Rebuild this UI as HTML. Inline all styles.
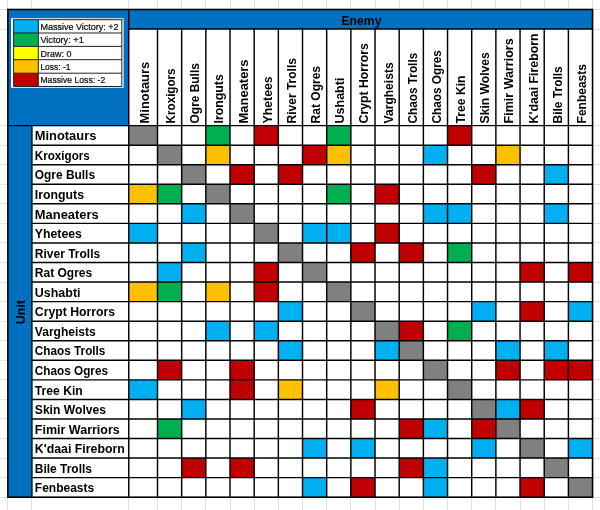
<!DOCTYPE html>
<html><head><meta charset="utf-8"><title>Matchups</title>
<style>html,body{margin:0;padding:0;background:#fff;overflow:hidden}svg{display:block}text{font-family:"Liberation Sans",sans-serif;fill:#000}.b{font-weight:bold;font-size:13.5px}.l{font-size:9.6px;fill:#0a0a0a;stroke:#0a0a0a;stroke-width:.22px}</style></head><body>
<svg width="600" height="510" viewBox="0 0 600 510">
<rect width="600" height="510" fill="#fff"/>
<g stroke="#E1E1E1" stroke-width="1">
<line x1="7.5" y1="0" x2="7.5" y2="510"/><line x1="31.5" y1="0" x2="31.5" y2="510"/><line x1="128.5" y1="0" x2="128.5" y2="510"/><line x1="157.5" y1="0" x2="157.5" y2="510"/><line x1="181.5" y1="0" x2="181.5" y2="510"/><line x1="205.5" y1="0" x2="205.5" y2="510"/><line x1="230.5" y1="0" x2="230.5" y2="510"/><line x1="254.5" y1="0" x2="254.5" y2="510"/><line x1="278.5" y1="0" x2="278.5" y2="510"/><line x1="302.5" y1="0" x2="302.5" y2="510"/><line x1="326.5" y1="0" x2="326.5" y2="510"/><line x1="350.5" y1="0" x2="350.5" y2="510"/><line x1="375.5" y1="0" x2="375.5" y2="510"/><line x1="399.5" y1="0" x2="399.5" y2="510"/><line x1="423.5" y1="0" x2="423.5" y2="510"/><line x1="447.5" y1="0" x2="447.5" y2="510"/><line x1="471.5" y1="0" x2="471.5" y2="510"/><line x1="495.5" y1="0" x2="495.5" y2="510"/><line x1="520.5" y1="0" x2="520.5" y2="510"/><line x1="544.5" y1="0" x2="544.5" y2="510"/><line x1="568.5" y1="0" x2="568.5" y2="510"/><line x1="592.5" y1="0" x2="592.5" y2="510"/><line x1="0" y1="9.5" x2="600" y2="9.5"/><line x1="0" y1="29.5" x2="600" y2="29.5"/><line x1="0" y1="125.5" x2="600" y2="125.5"/><line x1="0" y1="145.5" x2="600" y2="145.5"/><line x1="0" y1="164.5" x2="600" y2="164.5"/><line x1="0" y1="184.5" x2="600" y2="184.5"/><line x1="0" y1="203.5" x2="600" y2="203.5"/><line x1="0" y1="223.5" x2="600" y2="223.5"/><line x1="0" y1="242.5" x2="600" y2="242.5"/><line x1="0" y1="262.5" x2="600" y2="262.5"/><line x1="0" y1="282.5" x2="600" y2="282.5"/><line x1="0" y1="301.5" x2="600" y2="301.5"/><line x1="0" y1="321.5" x2="600" y2="321.5"/><line x1="0" y1="340.5" x2="600" y2="340.5"/><line x1="0" y1="360.5" x2="600" y2="360.5"/><line x1="0" y1="379.5" x2="600" y2="379.5"/><line x1="0" y1="399.5" x2="600" y2="399.5"/><line x1="0" y1="418.5" x2="600" y2="418.5"/><line x1="0" y1="438.5" x2="600" y2="438.5"/><line x1="0" y1="458.5" x2="600" y2="458.5"/><line x1="0" y1="477.5" x2="600" y2="477.5"/><line x1="0" y1="497.5" x2="600" y2="497.5"/></g>
<rect x="7.90" y="9.50" width="584.66" height="487.70" fill="#fff"/>
<rect x="7.90" y="9.50" width="120.85" height="116.10" fill="#0070C0"/>
<rect x="128.75" y="9.50" width="463.81" height="19.50" fill="#0070C0"/>
<rect x="7.90" y="125.60" width="24.00" height="371.60" fill="#0070C0"/>
<rect x="128.75" y="125.60" width="28.75" height="19.56" fill="#808080"/><rect x="205.84" y="125.60" width="24.17" height="19.56" fill="#00B050"/><rect x="254.18" y="125.60" width="24.17" height="19.56" fill="#C00000"/><rect x="326.69" y="125.60" width="24.17" height="19.56" fill="#00B050"/><rect x="447.54" y="125.60" width="24.17" height="19.56" fill="#C00000"/><rect x="157.50" y="145.16" width="24.17" height="19.56" fill="#808080"/><rect x="205.84" y="145.16" width="24.17" height="19.56" fill="#FFC000"/><rect x="302.52" y="145.16" width="24.17" height="19.56" fill="#C00000"/><rect x="326.69" y="145.16" width="24.17" height="19.56" fill="#FFC000"/><rect x="423.37" y="145.16" width="24.17" height="19.56" fill="#00B0F0"/><rect x="495.88" y="145.16" width="24.17" height="19.56" fill="#FFC000"/><rect x="181.67" y="164.72" width="24.17" height="19.56" fill="#808080"/><rect x="230.01" y="164.72" width="24.17" height="19.56" fill="#C00000"/><rect x="278.35" y="164.72" width="24.17" height="19.56" fill="#C00000"/><rect x="471.71" y="164.72" width="24.17" height="19.56" fill="#C00000"/><rect x="544.22" y="164.72" width="24.17" height="19.56" fill="#00B0F0"/><rect x="128.75" y="184.27" width="28.75" height="19.56" fill="#FFC000"/><rect x="157.50" y="184.27" width="24.17" height="19.56" fill="#00B050"/><rect x="205.84" y="184.27" width="24.17" height="19.56" fill="#808080"/><rect x="326.69" y="184.27" width="24.17" height="19.56" fill="#00B050"/><rect x="375.03" y="184.27" width="24.17" height="19.56" fill="#C00000"/><rect x="181.67" y="203.83" width="24.17" height="19.56" fill="#00B0F0"/><rect x="230.01" y="203.83" width="24.17" height="19.56" fill="#808080"/><rect x="423.37" y="203.83" width="24.17" height="19.56" fill="#00B0F0"/><rect x="447.54" y="203.83" width="24.17" height="19.56" fill="#00B0F0"/><rect x="544.22" y="203.83" width="24.17" height="19.56" fill="#00B0F0"/><rect x="128.75" y="223.39" width="28.75" height="19.56" fill="#00B0F0"/><rect x="254.18" y="223.39" width="24.17" height="19.56" fill="#808080"/><rect x="302.52" y="223.39" width="24.17" height="19.56" fill="#00B0F0"/><rect x="326.69" y="223.39" width="24.17" height="19.56" fill="#00B0F0"/><rect x="375.03" y="223.39" width="24.17" height="19.56" fill="#C00000"/><rect x="181.67" y="242.95" width="24.17" height="19.56" fill="#00B0F0"/><rect x="278.35" y="242.95" width="24.17" height="19.56" fill="#808080"/><rect x="350.86" y="242.95" width="24.17" height="19.56" fill="#C00000"/><rect x="399.20" y="242.95" width="24.17" height="19.56" fill="#C00000"/><rect x="447.54" y="242.95" width="24.17" height="19.56" fill="#00B050"/><rect x="157.50" y="262.51" width="24.17" height="19.56" fill="#00B0F0"/><rect x="254.18" y="262.51" width="24.17" height="19.56" fill="#C00000"/><rect x="302.52" y="262.51" width="24.17" height="19.56" fill="#808080"/><rect x="520.05" y="262.51" width="24.17" height="19.56" fill="#C00000"/><rect x="568.39" y="262.51" width="24.17" height="19.56" fill="#C00000"/><rect x="128.75" y="282.06" width="28.75" height="19.56" fill="#FFC000"/><rect x="157.50" y="282.06" width="24.17" height="19.56" fill="#00B050"/><rect x="205.84" y="282.06" width="24.17" height="19.56" fill="#FFC000"/><rect x="254.18" y="282.06" width="24.17" height="19.56" fill="#C00000"/><rect x="326.69" y="282.06" width="24.17" height="19.56" fill="#808080"/><rect x="278.35" y="301.62" width="24.17" height="19.56" fill="#00B0F0"/><rect x="350.86" y="301.62" width="24.17" height="19.56" fill="#808080"/><rect x="471.71" y="301.62" width="24.17" height="19.56" fill="#00B0F0"/><rect x="520.05" y="301.62" width="24.17" height="19.56" fill="#C00000"/><rect x="568.39" y="301.62" width="24.17" height="19.56" fill="#00B0F0"/><rect x="205.84" y="321.18" width="24.17" height="19.56" fill="#00B0F0"/><rect x="254.18" y="321.18" width="24.17" height="19.56" fill="#00B0F0"/><rect x="375.03" y="321.18" width="24.17" height="19.56" fill="#808080"/><rect x="399.20" y="321.18" width="24.17" height="19.56" fill="#C00000"/><rect x="447.54" y="321.18" width="24.17" height="19.56" fill="#00B050"/><rect x="278.35" y="340.74" width="24.17" height="19.56" fill="#00B0F0"/><rect x="375.03" y="340.74" width="24.17" height="19.56" fill="#00B0F0"/><rect x="399.20" y="340.74" width="24.17" height="19.56" fill="#808080"/><rect x="495.88" y="340.74" width="24.17" height="19.56" fill="#00B0F0"/><rect x="544.22" y="340.74" width="24.17" height="19.56" fill="#00B0F0"/><rect x="157.50" y="360.29" width="24.17" height="19.56" fill="#C00000"/><rect x="230.01" y="360.29" width="24.17" height="19.56" fill="#C00000"/><rect x="423.37" y="360.29" width="24.17" height="19.56" fill="#808080"/><rect x="495.88" y="360.29" width="24.17" height="19.56" fill="#C00000"/><rect x="544.22" y="360.29" width="24.17" height="19.56" fill="#C00000"/><rect x="568.39" y="360.29" width="24.17" height="19.56" fill="#C00000"/><rect x="128.75" y="379.85" width="28.75" height="19.56" fill="#00B0F0"/><rect x="230.01" y="379.85" width="24.17" height="19.56" fill="#C00000"/><rect x="278.35" y="379.85" width="24.17" height="19.56" fill="#FFC000"/><rect x="375.03" y="379.85" width="24.17" height="19.56" fill="#FFC000"/><rect x="447.54" y="379.85" width="24.17" height="19.56" fill="#808080"/><rect x="181.67" y="399.41" width="24.17" height="19.56" fill="#00B0F0"/><rect x="350.86" y="399.41" width="24.17" height="19.56" fill="#C00000"/><rect x="471.71" y="399.41" width="24.17" height="19.56" fill="#808080"/><rect x="495.88" y="399.41" width="24.17" height="19.56" fill="#00B0F0"/><rect x="520.05" y="399.41" width="24.17" height="19.56" fill="#C00000"/><rect x="157.50" y="418.97" width="24.17" height="19.56" fill="#00B050"/><rect x="399.20" y="418.97" width="24.17" height="19.56" fill="#C00000"/><rect x="423.37" y="418.97" width="24.17" height="19.56" fill="#00B0F0"/><rect x="471.71" y="418.97" width="24.17" height="19.56" fill="#C00000"/><rect x="495.88" y="418.97" width="24.17" height="19.56" fill="#808080"/><rect x="302.52" y="438.53" width="24.17" height="19.56" fill="#00B0F0"/><rect x="350.86" y="438.53" width="24.17" height="19.56" fill="#00B0F0"/><rect x="471.71" y="438.53" width="24.17" height="19.56" fill="#00B0F0"/><rect x="520.05" y="438.53" width="24.17" height="19.56" fill="#808080"/><rect x="568.39" y="438.53" width="24.17" height="19.56" fill="#00B0F0"/><rect x="181.67" y="458.08" width="24.17" height="19.56" fill="#C00000"/><rect x="230.01" y="458.08" width="24.17" height="19.56" fill="#C00000"/><rect x="399.20" y="458.08" width="24.17" height="19.56" fill="#C00000"/><rect x="423.37" y="458.08" width="24.17" height="19.56" fill="#00B0F0"/><rect x="544.22" y="458.08" width="24.17" height="19.56" fill="#808080"/><rect x="302.52" y="477.64" width="24.17" height="19.56" fill="#00B0F0"/><rect x="350.86" y="477.64" width="24.17" height="19.56" fill="#C00000"/><rect x="423.37" y="477.64" width="24.17" height="19.56" fill="#00B0F0"/><rect x="520.05" y="477.64" width="24.17" height="19.56" fill="#C00000"/><rect x="568.39" y="477.64" width="24.17" height="19.56" fill="#808080"/>
<g stroke="#000" stroke-width="1.45" fill="none">
<line x1="157.50" y1="29.00" x2="157.50" y2="497.20"/><line x1="181.67" y1="29.00" x2="181.67" y2="497.20"/><line x1="205.84" y1="29.00" x2="205.84" y2="497.20"/><line x1="230.01" y1="29.00" x2="230.01" y2="497.20"/><line x1="254.18" y1="29.00" x2="254.18" y2="497.20"/><line x1="278.35" y1="29.00" x2="278.35" y2="497.20"/><line x1="302.52" y1="29.00" x2="302.52" y2="497.20"/><line x1="326.69" y1="29.00" x2="326.69" y2="497.20"/><line x1="350.86" y1="29.00" x2="350.86" y2="497.20"/><line x1="375.03" y1="29.00" x2="375.03" y2="497.20"/><line x1="399.20" y1="29.00" x2="399.20" y2="497.20"/><line x1="423.37" y1="29.00" x2="423.37" y2="497.20"/><line x1="447.54" y1="29.00" x2="447.54" y2="497.20"/><line x1="471.71" y1="29.00" x2="471.71" y2="497.20"/><line x1="495.88" y1="29.00" x2="495.88" y2="497.20"/><line x1="520.05" y1="29.00" x2="520.05" y2="497.20"/><line x1="544.22" y1="29.00" x2="544.22" y2="497.20"/><line x1="568.39" y1="29.00" x2="568.39" y2="497.20"/><line x1="128.75" y1="9.50" x2="128.75" y2="497.20"/><line x1="31.90" y1="125.60" x2="31.90" y2="497.20"/><line x1="31.90" y1="145.16" x2="592.56" y2="145.16"/><line x1="31.90" y1="164.72" x2="592.56" y2="164.72"/><line x1="31.90" y1="184.27" x2="592.56" y2="184.27"/><line x1="31.90" y1="203.83" x2="592.56" y2="203.83"/><line x1="31.90" y1="223.39" x2="592.56" y2="223.39"/><line x1="31.90" y1="242.95" x2="592.56" y2="242.95"/><line x1="31.90" y1="262.51" x2="592.56" y2="262.51"/><line x1="31.90" y1="282.06" x2="592.56" y2="282.06"/><line x1="31.90" y1="301.62" x2="592.56" y2="301.62"/><line x1="31.90" y1="321.18" x2="592.56" y2="321.18"/><line x1="31.90" y1="340.74" x2="592.56" y2="340.74"/><line x1="31.90" y1="360.29" x2="592.56" y2="360.29"/><line x1="31.90" y1="379.85" x2="592.56" y2="379.85"/><line x1="31.90" y1="399.41" x2="592.56" y2="399.41"/><line x1="31.90" y1="418.97" x2="592.56" y2="418.97"/><line x1="31.90" y1="438.53" x2="592.56" y2="438.53"/><line x1="31.90" y1="458.08" x2="592.56" y2="458.08"/><line x1="31.90" y1="477.64" x2="592.56" y2="477.64"/><line x1="7.90" y1="125.60" x2="592.56" y2="125.60"/><line x1="128.75" y1="29.00" x2="592.56" y2="29.00"/></g>
<rect x="7.90" y="9.50" width="584.66" height="487.70" fill="none" stroke="#000" stroke-width="1.6"/>
<text class="b" x="361.46" y="24.90" textLength="40.00" lengthAdjust="spacingAndGlyphs" text-anchor="middle">Enemy</text>
<text class="b" x="0.00" y="0.00" textLength="24.18" lengthAdjust="spacingAndGlyphs" text-anchor="middle" transform="translate(25.10 312.10) rotate(-90)">Unit</text>
<text class="b" x="0.00" y="0.00" textLength="61.54" lengthAdjust="spacingAndGlyphs" transform="translate(148.62 123.40) rotate(-90)">Minotaurs</text>
<text class="b" x="0.00" y="0.00" textLength="55.00" lengthAdjust="spacingAndGlyphs" transform="translate(175.09 123.40) rotate(-90)">Kroxigors</text>
<text class="b" x="0.00" y="0.00" textLength="60.22" lengthAdjust="spacingAndGlyphs" transform="translate(199.25 123.40) rotate(-90)">Ogre Bulls</text>
<text class="b" x="0.00" y="0.00" textLength="49.20" lengthAdjust="spacingAndGlyphs" transform="translate(223.43 123.40) rotate(-90)">Ironguts</text>
<text class="b" x="0.00" y="0.00" textLength="63.95" lengthAdjust="spacingAndGlyphs" transform="translate(247.59 123.40) rotate(-90)">Maneaters</text>
<text class="b" x="0.00" y="0.00" textLength="47.09" lengthAdjust="spacingAndGlyphs" transform="translate(271.76 123.40) rotate(-90)">Yhetees</text>
<text class="b" x="0.00" y="0.00" textLength="65.38" lengthAdjust="spacingAndGlyphs" transform="translate(295.94 123.40) rotate(-90)">River Trolls</text>
<text class="b" x="0.00" y="0.00" textLength="57.44" lengthAdjust="spacingAndGlyphs" transform="translate(320.11 123.40) rotate(-90)">Rat Ogres</text>
<text class="b" x="0.00" y="0.00" textLength="45.76" lengthAdjust="spacingAndGlyphs" transform="translate(344.27 123.40) rotate(-90)">Ushabti</text>
<text class="b" x="0.00" y="0.00" textLength="80.30" lengthAdjust="spacingAndGlyphs" transform="translate(368.45 123.40) rotate(-90)">Crypt Horrors</text>
<text class="b" x="0.00" y="0.00" textLength="61.01" lengthAdjust="spacingAndGlyphs" transform="translate(392.62 123.40) rotate(-90)">Vargheists</text>
<text class="b" x="0.00" y="0.00" textLength="70.60" lengthAdjust="spacingAndGlyphs" transform="translate(416.79 123.40) rotate(-90)">Chaos Trolls</text>
<text class="b" x="0.00" y="0.00" textLength="73.20" lengthAdjust="spacingAndGlyphs" transform="translate(440.96 123.40) rotate(-90)">Chaos Ogres</text>
<text class="b" x="0.00" y="0.00" textLength="47.91" lengthAdjust="spacingAndGlyphs" transform="translate(465.12 123.40) rotate(-90)">Tree Kin</text>
<text class="b" x="0.00" y="0.00" textLength="71.18" lengthAdjust="spacingAndGlyphs" transform="translate(489.30 123.40) rotate(-90)">Skin Wolves</text>
<text class="b" x="0.00" y="0.00" textLength="85.02" lengthAdjust="spacingAndGlyphs" transform="translate(513.46 123.40) rotate(-90)">Fimir Warriors</text>
<text class="b" x="0.00" y="0.00" textLength="90.01" lengthAdjust="spacingAndGlyphs" transform="translate(537.63 123.40) rotate(-90)">K'daai Fireborn</text>
<text class="b" x="0.00" y="0.00" textLength="57.14" lengthAdjust="spacingAndGlyphs" transform="translate(561.81 123.40) rotate(-90)">Bile Trolls</text>
<text class="b" x="0.00" y="0.00" textLength="59.36" lengthAdjust="spacingAndGlyphs" transform="translate(585.98 123.40) rotate(-90)">Fenbeasts</text>
<text class="b" x="34.80" y="140.36" textLength="61.54" lengthAdjust="spacingAndGlyphs">Minotaurs</text>
<text class="b" x="34.80" y="159.92" textLength="55.00" lengthAdjust="spacingAndGlyphs">Kroxigors</text>
<text class="b" x="34.80" y="179.47" textLength="60.22" lengthAdjust="spacingAndGlyphs">Ogre Bulls</text>
<text class="b" x="34.80" y="199.03" textLength="49.20" lengthAdjust="spacingAndGlyphs">Ironguts</text>
<text class="b" x="34.80" y="218.59" textLength="63.95" lengthAdjust="spacingAndGlyphs">Maneaters</text>
<text class="b" x="34.80" y="238.15" textLength="47.09" lengthAdjust="spacingAndGlyphs">Yhetees</text>
<text class="b" x="34.80" y="257.71" textLength="65.38" lengthAdjust="spacingAndGlyphs">River Trolls</text>
<text class="b" x="34.80" y="277.26" textLength="57.44" lengthAdjust="spacingAndGlyphs">Rat Ogres</text>
<text class="b" x="34.80" y="296.82" textLength="45.76" lengthAdjust="spacingAndGlyphs">Ushabti</text>
<text class="b" x="34.80" y="316.38" textLength="80.30" lengthAdjust="spacingAndGlyphs">Crypt Horrors</text>
<text class="b" x="34.80" y="335.94" textLength="61.01" lengthAdjust="spacingAndGlyphs">Vargheists</text>
<text class="b" x="34.80" y="355.49" textLength="70.60" lengthAdjust="spacingAndGlyphs">Chaos Trolls</text>
<text class="b" x="34.80" y="375.05" textLength="73.20" lengthAdjust="spacingAndGlyphs">Chaos Ogres</text>
<text class="b" x="34.80" y="394.61" textLength="47.91" lengthAdjust="spacingAndGlyphs">Tree Kin</text>
<text class="b" x="34.80" y="414.17" textLength="71.18" lengthAdjust="spacingAndGlyphs">Skin Wolves</text>
<text class="b" x="34.80" y="433.73" textLength="85.02" lengthAdjust="spacingAndGlyphs">Fimir Warriors</text>
<text class="b" x="34.80" y="453.28" textLength="90.01" lengthAdjust="spacingAndGlyphs">K'daai Fireborn</text>
<text class="b" x="34.80" y="472.84" textLength="57.14" lengthAdjust="spacingAndGlyphs">Bile Trolls</text>
<text class="b" x="34.80" y="492.40" textLength="59.36" lengthAdjust="spacingAndGlyphs">Fenbeasts</text>
<rect x="11.00" y="18.00" width="112.60" height="69.80" fill="#fff"/>
<rect x="11.00" y="18.00" width="112.60" height="1.5" fill="#d0d4d8"/>
<rect x="13.60" y="19.70" width="24.70" height="13.30" fill="#00B0F0"/><rect x="13.60" y="33.00" width="24.70" height="13.40" fill="#00B050"/><rect x="13.60" y="46.40" width="24.70" height="13.30" fill="#FFFF00"/><rect x="13.60" y="59.70" width="24.70" height="13.50" fill="#FFC000"/><rect x="13.60" y="73.20" width="24.70" height="13.30" fill="#C00000"/>
<g stroke="#222" stroke-width="1" fill="none"><line x1="13.60" y1="19.70" x2="121.80" y2="19.70"/><line x1="13.60" y1="33.00" x2="121.80" y2="33.00"/><line x1="13.60" y1="46.40" x2="121.80" y2="46.40"/><line x1="13.60" y1="59.70" x2="121.80" y2="59.70"/><line x1="13.60" y1="73.20" x2="121.80" y2="73.20"/><line x1="13.60" y1="86.50" x2="121.80" y2="86.50"/><line x1="13.60" y1="19.70" x2="13.60" y2="86.50"/><line x1="38.30" y1="19.70" x2="38.30" y2="86.50"/><line x1="121.80" y1="19.70" x2="121.80" y2="86.50"/></g>
<text class="l" x="40.40" y="29.95" textLength="78.09" lengthAdjust="spacingAndGlyphs">Massive Victory: +2</text>
<text class="l" x="40.40" y="43.35" textLength="43.33" lengthAdjust="spacingAndGlyphs">Victory: +1</text>
<text class="l" x="40.40" y="56.65" textLength="31.00" lengthAdjust="spacingAndGlyphs">Draw: 0</text>
<text class="l" x="40.40" y="70.15" textLength="30.06" lengthAdjust="spacingAndGlyphs">Loss: -1</text>
<text class="l" x="40.40" y="83.45" textLength="64.82" lengthAdjust="spacingAndGlyphs">Massive Loss: -2</text>
<rect x="121.4" y="18.6" width="1.6" height="1.6" fill="#3f9a68"/>
</svg>
</body></html>
